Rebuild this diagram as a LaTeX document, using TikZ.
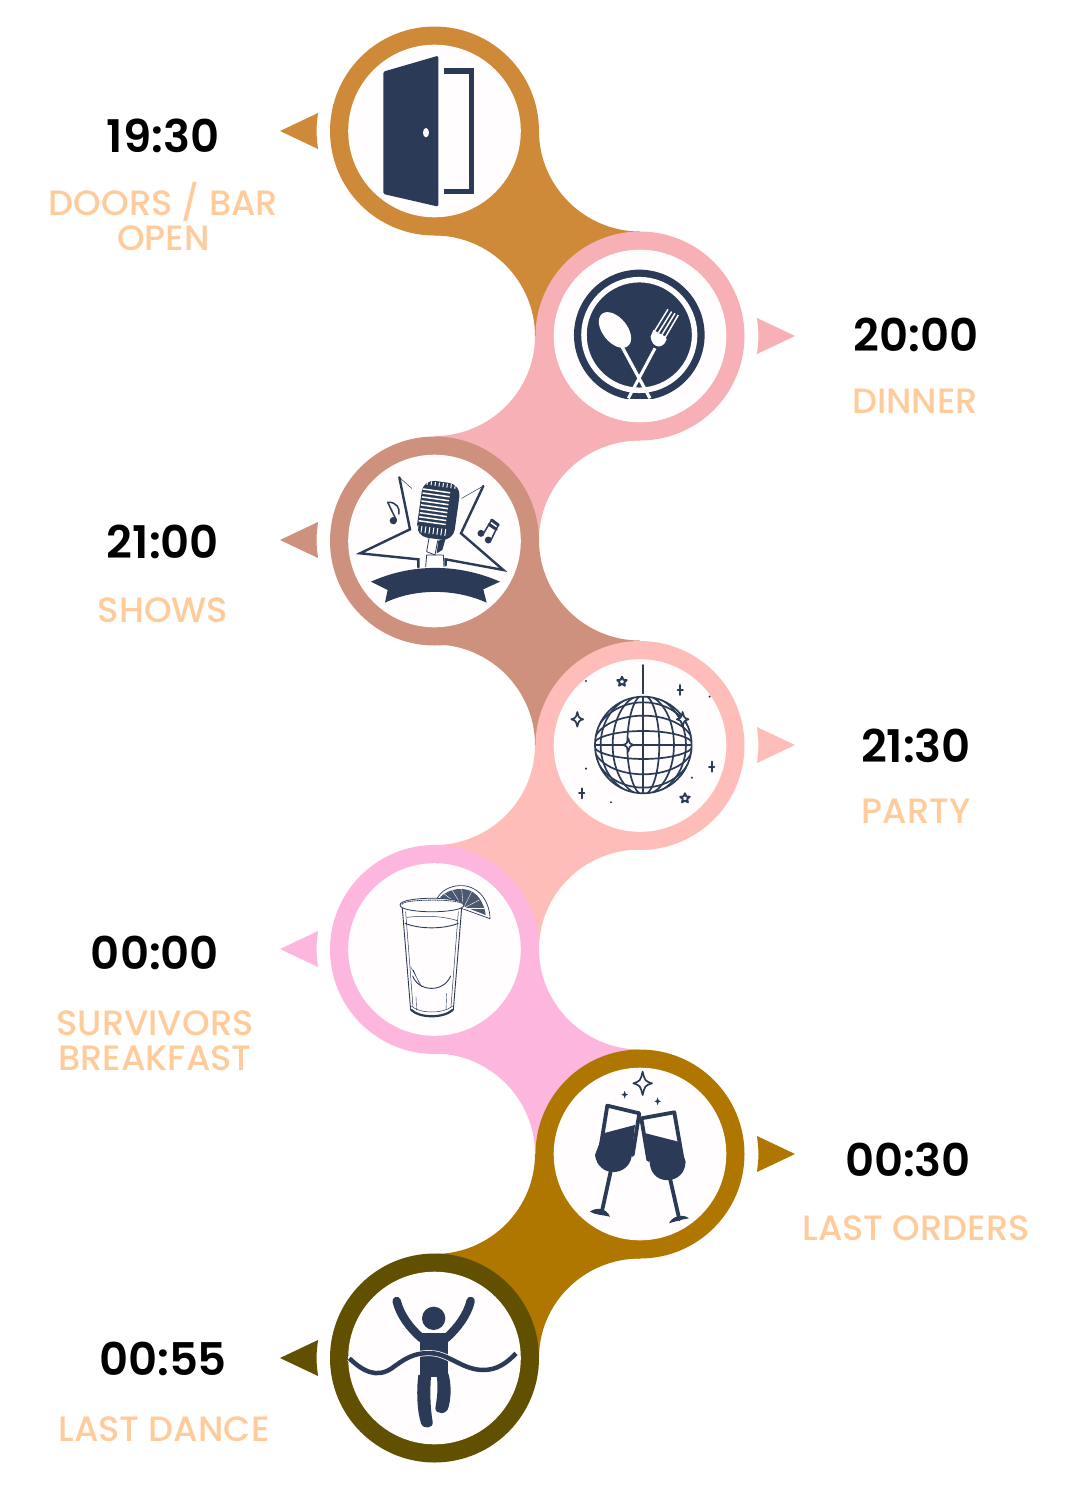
\documentclass[tikz,border=0pt]{standalone}
\usepackage{fontspec}
\setmainfont{Poppins}
\newfontfamily\timefont{Poppins SemiBold}
\newfontfamily\labelfont{Poppins Medium}
\usetikzlibrary{positioning}
\definecolor{cdoor}{HTML}{CF8A39}
\definecolor{cdinner}{HTML}{F6B0B6}
\definecolor{cshow}{HTML}{CE917E}
\definecolor{cparty}{HTML}{FFBDBA}
\definecolor{cshot}{HTML}{FDB6DE}
\definecolor{corder}{HTML}{AF7700}
\definecolor{cdance}{HTML}{615000}
\definecolor{cicon}{HTML}{2B3B57}
\definecolor{cpeach}{HTML}{FFCB9A}
\definecolor{cdisk}{HTML}{FFFDFE}
\tikzset{
	timetext/.style={font=\timefont\fontsize{45}{45}\selectfont,text=black,inner sep=0pt},
	labeltext/.style={font=\labelfont\fontsize{35.2}{35}\selectfont,text=cpeach,align=center,inner sep=0pt},
	zoomed/.style={shift={#1},scale=0.3333},
	tiny/.style={scale=0.3333},
	iconline/.style={draw=cicon,line join=round,line cap=round},
	pics/pointleft/.style={code={\fill[#1](0,0)--(38,-18)..controls(36,0)..(38,18)--cycle;}},
	pics/pointright/.style={code={\fill[#1](0,0)--(-38,-18)..controls(-36,0)..(-38,18)--cycle;}},
	pics/sparkle/.style={code={\filldraw[iconline,fill=cdisk,line width=1.7pt](0,-#1)..controls(0.2*#1,-0.2*#1)..(0.8*#1,0)..controls(0.2*#1,0.2*#1)..(0,#1)..controls(-0.2*#1,0.2*#1)..(-0.8*#1,0)..controls(-0.2*#1,-0.2*#1)..cycle;}},
	pics/starmark/.style={code={\draw[iconline,line width=1.9pt](-90:15)--(-54:7)--(-18:15)--(18:7)--(54:15)--(90:7)--(126:15)--(162:7)--(198:15)--(234:7)--cycle;}},
	pics/plusmark/.style={code={\draw[iconline,line width=1.8pt](0,-15)--(0,15)(-8,0)--(8,0);}}
}
\begin{document}
\begin{tikzpicture}[x=1pt,y=-1pt,line join=round]
	\useasboundingbox (0,0) rectangle (1080,1500);
	% bands
	\foreach \y/\c in {131/cdoor,540/cshow,949/cshot}
	\fill[\c,shift={(434.5,\y)}] (104.5,0)..controls(104.5,55.2)and(150,100.5)..(205.5,100.5)--(205.5,205)--(100.5,205)..controls(100.5,149.8)and(55.2,104.5)..(0,104.5)--cycle;
	\foreach \y/\c in {131/cdinner,540/cparty,949/corder}
	\fill[\c,shift={(434.5,\y)}] (100.5,205)..controls(100.5,260.2)and(55.2,305)..(0,305)--(0,409)--(104.5,409)..controls(104.5,353.8)and(150,309.5)..(205.5,309.5)--(205.5,205)--cycle;
	% discs
	\foreach \x/\y/\c in {434.5/131/cdoor,640/336/cdinner,434.5/541/cshow,640/745.5/cparty,434.5/949.5/cshot,640/1154/corder,434.5/1358/cdance}{
		\fill[\c] (\x,\y) circle (104.5);
		\fill[cdisk] (\x,\y) circle (86.3);
	}
	% pointers
	\path (280,131) pic {pointleft=cdoor} (280,540) pic {pointleft=cshow} (280,949) pic {pointleft=cshot} (280,1358) pic {pointleft=cdance};
	\path (795,336) pic {pointright=cdinner} (795,745) pic {pointright=cparty} (795,1154) pic {pointright=corder};
	% texts
	\node[timetext] (doorstime) at (163,135.5) {19:30};
	\node[labeltext] (doorslabel) at (163.5,216.5) {DOORS / BAR\\OPEN};
	\node[timetext] (dinnertime) at (916,335) {20:00};
	\node[labeltext] (dinnerlabel) at (915,401) {DINNER};
	\node[timetext] (showstime) at (163,542) {21:00};
	\node[labeltext] (showslabel) at (163,610) {SHOWS};
	\node[timetext] (partytime) at (916,745.5) {21:30};
	\node[labeltext] (partylabel) at (916,811) {PARTY};
	\node[timetext] (shottime) at (155,953) {00:00};
	\node[labeltext] (shotlabel) at (155,1040.5) {SURVIVORS\\BREAKFAST};
	\node[timetext] (ordertime) at (908,1159.5) {00:30};
	\node[labeltext] (orderlabel) at (916,1228) {LAST ORDERS};
	\node[timetext] (dancetime) at (163,1359) {00:55};
	\node[labeltext] (dancelabel) at (164,1429) {LAST DANCE};
	% door
	\begin{scope}[zoomed={(320,20)}]
		\fill[cicon,rounded corners=1.5pt] (190,155)--(355,107)--(355,560)--(190,522)--cycle;
		\fill[cdisk] (318,338) ellipse (9 and 14);
		\draw[iconline,line width=5.5pt,line cap=butt,line join=miter] (372,153)--(454,153)--(454,515)--(372,515);
	\end{scope}
	% plate
	\begin{scope}[zoomed={(320,20)}]
		\clip (700,700) rectangle (1220,1135);
		\fill[cicon] (958,945) circle (196);
		\draw[draw=cdisk,line width=5.5pt] (958,945) circle (166);
		\fill[cdisk,rotate around={-51:(885,930)}] (885,930) ellipse (62 and 37);
		\draw[cdisk,line width=3.2pt] (905,978)--(990,1135);
		\draw[cdisk,line width=3pt] (1005,985)--(925,1135);
		\fill[cdisk] (992,950)..controls(995,985)and(1030,990)..(1040,958)--(1036,950)--(1000,930)--cycle;
		\foreach \a/\b/\c/\d in {1001/938/1044/868,1012/944/1055/875,1023/949/1065/880,1034/955/1075/885}
		\draw[cdisk,line width=1.5pt] (\a,\b)--(\c,\d);
	\end{scope}
	% microphone
	\begin{scope}[zoomed={(355,470)}]
		\draw[iconline,line width=2.4pt,line join=miter] (133,22)--(165,178)--(15,250)--(190,268)--(190,292);
		\draw[iconline,line width=2.4pt,line join=miter] (272,286)--(272,268)--(445,300)--(318,190)--(385,48);
		\draw[iconline,line width=0.5pt] (133,22)--(170,55) (385,48)--(320,85);
		\fill[cicon,rotate around={-8:(250,120)},rounded corners=12pt] (193,35) rectangle (307,207);
		\begin{scope}[rotate around={-8:(250,120)}]
			\foreach \yy in {64,76,...,160}
			\draw[cdisk,line width=1.5pt] (196,\yy)--(278,\yy);
			\foreach \xx in {206,218,...,290}{
				\draw[cdisk,line width=1pt] (\xx,38)--(\xx,50);
				\draw[cdisk,line width=1pt] (\xx-10,174)--(\xx-10,194);
			}
		\end{scope}
		\draw[iconline,line width=0.8pt] (222,205)--(215,245)--(240,255)--(248,212);
		\fill[cicon] (272,205)--(262,240)--(245,250)--(250,212)--cycle;
		\draw[iconline,line width=0.8pt] (215,255)--(262,255) (215,255)--(212,290) (265,255)--(267,290);
		\fill[cicon] (48,335)..controls(170,280)and(310,280)..(435,335)--(385,358)--(395,398)..controls(300,355)and(180,355)..(90,398)--(98,360)--cycle;
		\fill[cicon] (115,152) circle (11);
		\draw[iconline,line width=1.5pt] (124,150)--(98,97)..controls(125,95)and(135,115)..(132,132);
		\fill[cicon] (378,190) circle (10.5) (400,210) circle (10.5);
		\draw[iconline,line width=1.5pt] (387,188)--(410,150) (409,208)--(430,165);
		\draw[iconline,line width=3pt] (410,150)--(430,165) (402,163)--(424,178);
	\end{scope}
	% disco ball
	\begin{scope}[zoomed={(320,430)}]
		\draw[iconline,line width=1.8pt] (970,705)--(970,790);
		\begin{scope}
			\clip (970,945) circle (145);
			\foreach \r in {48,92,128}
			\draw[iconline,line width=1.7pt] (970,945) ellipse ({\r} and 150);
			\foreach \r in {42,88,128}
			\draw[iconline,line width=1.7pt] (970,945) ellipse (150 and {\r});
			\draw[iconline,line width=1.7pt] (970,790)--(970,1100) (820,945)--(1120,945);
		\end{scope}
		\draw[iconline,line width=1.7pt] (970,945) circle (145);
		\path (772,868) pic[tiny] {sparkle=22} (1088,868) pic[tiny] {sparkle=22} (925,945) pic[tiny] {sparkle=20};
		\path (906,755) pic[tiny] {starmark} (1095,1105) pic[tiny] {starmark};
		\path (1081,780) pic[tiny] {plusmark} (1175,1010) pic[tiny] {plusmark} (785,1090) pic[tiny] {plusmark};
		\foreach \x/\y in {798/753,1169/800,798/1016,1116/1043,873/1117}
		\fill[cicon] (\x,\y) circle (3.5);
	\end{scope}
	% shot glass
	\begin{scope}[zoomed={(320,840)}]
		\filldraw[iconline,fill=cdisk,line width=0.7pt] (350,178)..controls(370,135)and(440,120)..(480,160)..controls(500,180)and(510,210)..(510,236)--cycle;
		\fill[cicon!85] (360,172)..controls(385,145)and(440,135)..(470,165)..controls(485,180)and(495,205)..(497,225)--cycle;
		\foreach \a/\b in {370/160,395/148,425/145,455/155,478/180,492/205}
		\draw[cdisk,line width=0.4pt] (430,205)--(\a,\b);
		\filldraw[iconline,fill=cdisk,line width=0.8pt] (240,195)..controls(240,168)and(432,168)..(432,195)..controls(432,222)and(240,222)..(240,195)--cycle;
		\draw[iconline,line width=0.8pt,densely dotted] (246,193)..controls(250,176)and(424,176)..(428,193);
		\draw[iconline,line width=0.9pt] (247,205)--(272,510) (425,205)--(400,510);
		\draw[iconline,line width=0.5pt] (257,215)--(279,500) (415,215)--(393,500);
		\draw[iconline,line width=0.9pt] (255,250)..controls(300,268)and(370,268)..(415,250);
		\draw[iconline,line width=0.5pt] (262,232)..controls(310,226)and(370,228)..(412,242);
		\draw[iconline,line width=0.9pt] (278,408)..controls(295,455)and(370,460)..(392,408);
		\draw[iconline,line width=0.4pt] (272,380)--(305,440) (280,390)--(298,430) (288,470)--(290,510) (380,460)--(378,510);
		\draw[iconline,line width=2.2pt] (274,510)..controls(300,535)and(370,535)..(398,510);
		\draw[iconline,line width=0.5pt] (274,498)..controls(300,522)and(370,522)..(398,498);
	\end{scope}
	% glasses
	\begin{scope}[zoomed={(320,840)}]
		\fill[cicon] (850,880)--(945,855)--(935,950)..controls(925,1010)and(835,1015)..(825,945)--cycle;
		\draw[iconline,line width=3.8pt] (838,945)--(862,797)--(958,820)--(938,945);
		\draw[iconline,line width=3.8pt] (872,995)--(845,1118);
		\fill[cicon] (810,1115)..controls(830,1100)and(860,1105)..(870,1130)..controls(850,1125)and(825,1125)..cycle;
		\fill[cicon] (977,880)--(1075,905)--(1097,965)..controls(1095,1035)and(1000,1040)..(990,975)--cycle;
		\draw[iconline,line width=3.8pt] (985,960)--(964,835)--(1063,817)--(1088,960);
		\draw[iconline,line width=3.8pt] (1050,1015)--(1078,1138);
		\fill[cicon] (1047,1150)..controls(1060,1125)and(1090,1122)..(1107,1135)..controls(1085,1138)and(1065,1145)..cycle;
		\path (968,730) pic[tiny] {sparkle=35};
		\fill[cicon] (914,752)--(917,761)--(924,764)--(917,767)--(914,776)--(911,767)--(904,764)--(911,761)--cycle;
		\fill[cicon] (1013,772)--(1016,781)--(1023,784)--(1016,787)--(1013,796)--(1010,787)--(1003,784)--(1010,781)--cycle;
	\end{scope}
	% runner
	\begin{scope}[zoomed={(320,1240)}]
		\fill[cicon] (341,235) circle (35);
		\draw[iconline,line width=8.5pt] (230,183)..controls(240,225)and(270,265)..(305,295);
		\draw[iconline,line width=8.5pt] (452,183)..controls(442,225)and(412,265)..(378,295);
		\fill[cicon] (300,280) rectangle (385,410);
		\fill[cicon] (295,405)..controls(288,460)and(293,520)..(303,550)..controls(310,570)and(342,565)..(338,545)..controls(330,500)and(330,450)..(333,408)--(350,408)..controls(355,440)and(352,470)..(346,505)..controls(348,525)and(382,525)..(386,500)..controls(394,470)and(394,430)..(385,400)--cycle;
		\draw[cdisk,line width=6pt] (88,355)..controls(130,395)and(170,415)..(215,385)..controls(250,360)and(280,335)..(340,340)..controls(390,345)and(430,390)..(490,390)..controls(530,390)and(560,370)..(588,340);
		\draw[iconline,line width=4.5pt,line cap=butt] (88,355)..controls(130,395)and(170,415)..(215,385)..controls(250,360)and(280,335)..(340,340)..controls(390,345)and(430,390)..(490,390)..controls(530,390)and(560,370)..(588,340);
	\end{scope}
\end{tikzpicture}
\end{document}
